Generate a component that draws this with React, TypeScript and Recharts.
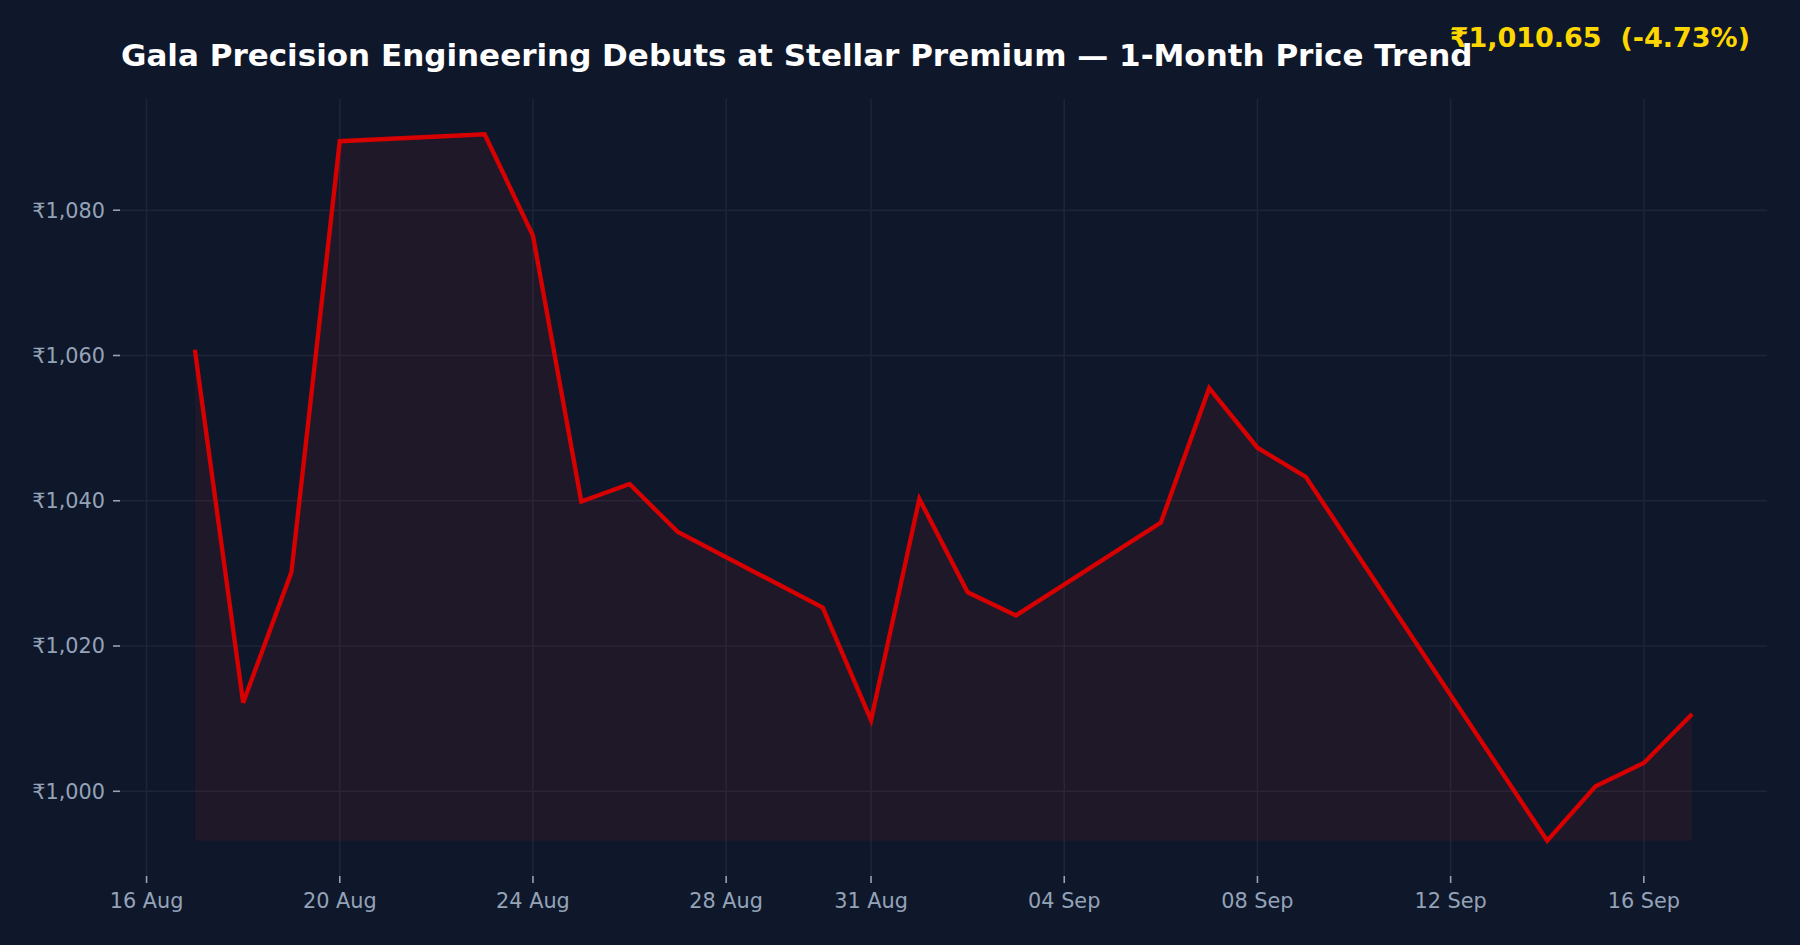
import { ComposedChart, Area, XAxis, YAxis, CartesianGrid } from 'recharts';

const dates = [
  '2021-08-17', '2021-08-18', '2021-08-19', '2021-08-20', '2021-08-23', '2021-08-24',
  '2021-08-25', '2021-08-26', '2021-08-27', '2021-08-30', '2021-08-31', '2021-09-01',
  '2021-09-02', '2021-09-03', '2021-09-06', '2021-09-07', '2021-09-08', '2021-09-09',
  '2021-09-14', '2021-09-15', '2021-09-16', '2021-09-17',
];

const prices = [
  1060.8, 1012.2, 1030.2, 1089.5, 1090.45, 1076.5,
  1039.9, 1042.3, 1035.7, 1025.3, 1009.8, 1040.25,
  1027.4, 1024.2, 1037.0, 1055.5, 1047.3, 1043.3,
  993.2, 1000.7, 1003.9, 1010.65,
];

const xTicks = [
  '2021-08-16', '2021-08-20', '2021-08-24', '2021-08-28', '2021-08-31',
  '2021-09-04', '2021-09-08', '2021-09-12', '2021-09-16',
];

const yTicks = [1000, 1020, 1040, 1060, 1080];

const title = 'Gala Precision Engineering Debuts at Stellar Premium — 1-Month Price Trend';

const MONTHS = ['Jan', 'Feb', 'Mar', 'Apr', 'May', 'Jun', 'Jul', 'Aug', 'Sep', 'Oct', 'Nov', 'Dec'];

const toTime = (s: string) => {
  const [y, m, d] = s.split('-').map(Number);
  return Date.UTC(y, m - 1, d);
};

const fmtDate = (t: number) => {
  const d = new Date(t);
  return String(d.getUTCDate()).padStart(2, '0') + ' ' + MONTHS[d.getUTCMonth()];
};

const data = dates.map((d, i) => ({ t: toTime(d), price: prices[i] }));

const minP = Math.min(...prices);
const maxP = Math.max(...prices);
const yPad = (maxP - minP) * 0.05;
const t0 = data[0].t;
const t1 = data[data.length - 1].t;
const xPad = (t1 - t0) * 0.05;

const last = prices[prices.length - 1];
const change = ((last - prices[0]) / prices[0]) * 100;
const summary =
  '₹' + last.toLocaleString('en-US', { minimumFractionDigits: 2 }) + '  (' + change.toFixed(2) + '%)';

const TICK = '#94a3b8';

export default function App() {
  return (
    <div
      style={{
        position: 'absolute', left: 0, top: 0, width: 1800, height: 945,
        background: '#0f172a', fontFamily: '"DejaVu Sans", sans-serif', overflow: 'hidden',
      }}
    >
      <div
        style={{
          position: 'absolute', left: 121, top: 40, fontSize: 31, lineHeight: '31px',
          fontWeight: 'bold', color: '#ffffff', whiteSpace: 'nowrap',
        }}
      >
        {title}
      </div>
      <div
        style={{
          position: 'absolute', right: 50, top: 24, fontSize: 27, lineHeight: '27px',
          fontWeight: 'bold', color: '#ffd700', whiteSpace: 'pre',
        }}
      >
        {summary}
      </div>
      <ComposedChart
        width={1800}
        height={945}
        data={data}
        margin={{ top: 99, right: 33, bottom: 0, left: 0 }}
      >
        <CartesianGrid stroke="#1d2537" strokeWidth={1.6} vertical horizontal syncWithTicks />
        <XAxis
          dataKey="t"
          type="number"
          domain={[t0 - xPad, t1 + xPad]}
          ticks={xTicks.map(toTime)}
          tickFormatter={fmtDate}
          allowDataOverflow
          height={69}
          axisLine={false}
          tickSize={7}
          tickMargin={10}
          tickLine={{ stroke: TICK, strokeWidth: 1.6 }}
          tick={{ fill: TICK, fontSize: 20.8 }}
        />
        <YAxis
          type="number"
          domain={[minP - yPad, maxP + yPad]}
          ticks={yTicks}
          tickFormatter={(v: number) => '₹' + v.toLocaleString('en-US')}
          allowDataOverflow
          width={120}
          axisLine={false}
          tickSize={7}
          tickMargin={8}
          tickLine={{ stroke: TICK, strokeWidth: 1.6 }}
          tick={{ fill: TICK, fontSize: 20.8 }}
        />
        <Area
          type="linear"
          dataKey="price"
          baseValue={minP}
          stroke="#d60000"
          strokeWidth={4.4}
          fill="#d42020"
          fillOpacity={0.08}
          isAnimationActive={false}
          dot={false}
          activeDot={false}
        />
      </ComposedChart>
    </div>
  );
}
